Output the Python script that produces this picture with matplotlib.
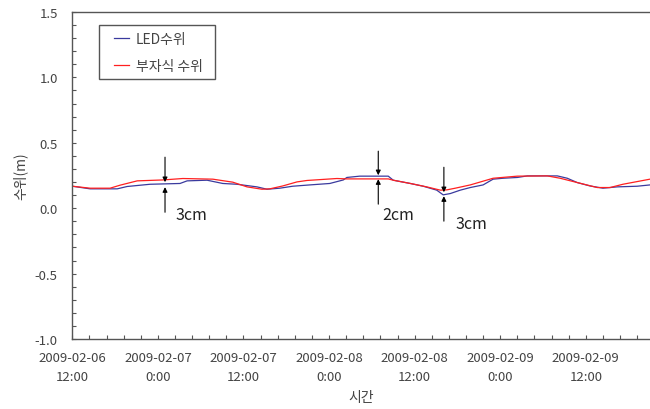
import numpy as np
import matplotlib
matplotlib.use("Agg")
from matplotlib import pyplot as plt
from matplotlib.ticker import MultipleLocator, FormatStrFormatter
from matplotlib.patches import Rectangle

plt.rcParams['font.family'] = ['Noto Sans CJK KR', 'DejaVu Sans']

# hours after 2009-02-06 12:00
led_hours = [0.0, 2.5, 6.3, 7.7, 10.9, 15.1, 16.1, 18.9, 21.1, 23.1, 25.9, 27.3,
             29.1, 30.9, 33.3, 36.1, 38.0, 38.5, 40.3, 44.3, 45.0, 47.4, 49.2,
             51.1, 52.0, 53.0, 54.4, 55.8, 57.6, 59.0, 60.4, 62.4, 63.8, 68.0,
             69.4, 70.8, 72.6, 74.4, 76.4, 79.2, 81.0]
led_level = [0.168, 0.148, 0.148, 0.166, 0.183, 0.189, 0.209, 0.214, 0.189, 0.183,
             0.163, 0.145, 0.153, 0.168, 0.178, 0.189, 0.216, 0.235, 0.245, 0.245,
             0.214, 0.189, 0.168, 0.138, 0.102, 0.112, 0.138, 0.158, 0.178, 0.222,
             0.229, 0.235, 0.247, 0.247, 0.229, 0.196, 0.170, 0.153, 0.163, 0.168,
             0.178]

float_hours = [0.0, 2.5, 5.3, 6.7, 9.1, 12.7, 15.5, 19.7, 22.5, 24.5, 26.6, 27.7,
               29.5, 31.5, 32.9, 37.1, 38.5, 44.3, 45.0, 47.4, 49.7, 51.6, 52.5,
               53.7, 55.8, 59.0, 62.4, 66.6, 68.4, 70.8, 73.6, 75.4, 77.2, 81.0]
float_level = [0.168, 0.153, 0.153, 0.176, 0.209, 0.216, 0.227, 0.222, 0.199, 0.163,
               0.145, 0.148, 0.170, 0.201, 0.212, 0.227, 0.224, 0.224, 0.214, 0.189,
               0.163, 0.138, 0.140, 0.153, 0.178, 0.229, 0.245, 0.247, 0.229, 0.196,
               0.158, 0.158, 0.183, 0.222]

tick_labels = ['2009-02-06\n12:00', '2009-02-07\n0:00', '2009-02-07\n12:00',
               '2009-02-08\n0:00', '2009-02-08\n12:00', '2009-02-09\n0:00',
               '2009-02-09\n12:00']
tick_hours = [0, 12, 24, 36, 48, 60, 72]

# difference markers: x, top arrow (start, end), bottom arrow (start, end), label
diff_x = [13.0, 42.9, 52.1]
diff_top = [(0.39, 0.199), (0.436, 0.252), (0.313, 0.122)]
diff_bot = [(-0.031, 0.161), (0.031, 0.222), (-0.099, 0.092)]
diff_text = ['3cm', '2cm', '3cm']
diff_text_pos = [(14.4, -0.046), (43.4, -0.046), (53.7, -0.115)]

fig = plt.figure(figsize=(6.5, 4.1), dpi=100)
ax = fig.add_axes([72.3 / 650, 70 / 410, 1 - 72.3 / 650, 327 / 410])

ax.plot(led_hours, led_level, color='#3a3a9e', lw=0.9, label='LED수위')
ax.plot(float_hours, float_level, color='#ff2020', lw=0.9, label='부자식 수위')

ax.set_xlim(0, 81)
ax.set_ylim(-1.0, 1.5)
ax.yaxis.set_major_locator(MultipleLocator(0.5))
ax.yaxis.set_minor_locator(MultipleLocator(0.1))
ax.yaxis.set_major_formatter(FormatStrFormatter('%.1f'))
ax.xaxis.set_minor_locator(MultipleLocator(2.4))
ax.set_xticks(tick_hours)
ax.set_xticklabels(tick_labels, linespacing=1.55)
ax.tick_params(which='both', direction='in', length=3, width=0.8, color='#555555',
               labelsize=9.5, labelcolor='#444444')
ax.tick_params(axis='x', pad=9)
ax.tick_params(axis='y', pad=10.5)

ax.spines['right'].set_visible(False)
for s in ['left', 'bottom', 'top']:
    ax.spines[s].set_color('#555555')
    ax.spines[s].set_linewidth(1.0)

ax.set_xlabel('시간', fontsize=10, color='#444444', labelpad=5)
ax.set_ylabel('수위(m)', fontsize=10, color='#444444', labelpad=5)

for x, (t0, t1), (b0, b1), txt, (tx, ty) in zip(diff_x, diff_top, diff_bot,
                                                diff_text, diff_text_pos):
    ax.annotate('', xy=(x, t1), xytext=(x, t0),
                arrowprops=dict(arrowstyle='-|>', color='black', lw=0.8,
                                mutation_scale=7, shrinkA=0, shrinkB=0))
    ax.annotate('', xy=(x, b1), xytext=(x, b0),
                arrowprops=dict(arrowstyle='-|>', color='black', lw=0.8,
                                mutation_scale=7, shrinkA=0, shrinkB=0))
    ax.text(tx, ty, txt, fontsize=11.5, va='center', ha='left', color='#222222')

# legend box drawn separately, entries placed inside it
fig.patches.append(Rectangle((99 / 650, 1 - 80 / 410), 116 / 650, 54 / 410,
                             transform=fig.transFigure, fill=False,
                             edgecolor='#555555', lw=1.0))
leg = ax.legend(loc='upper left', bbox_to_anchor=(114 / 650, 1 - 33 / 410),
                bbox_transform=fig.transFigure, borderaxespad=0, borderpad=0,
                fontsize=10, handlelength=1.1, handletextpad=0.45,
                labelspacing=0.95, frameon=False)
for t in leg.get_texts():
    t.set_color('#444444')

fig.savefig('out.png', dpi=100)
